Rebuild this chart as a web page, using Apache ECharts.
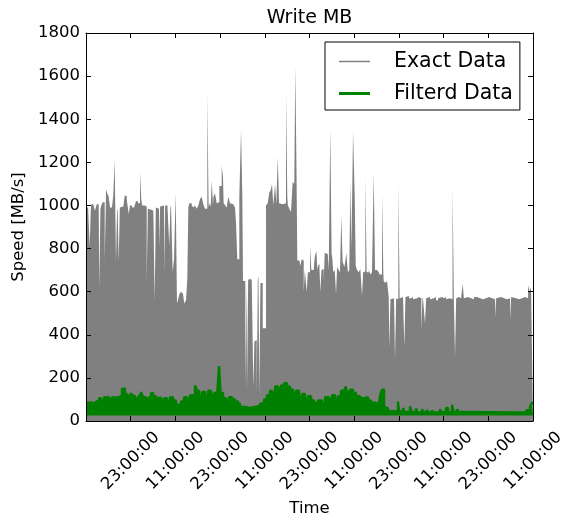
<!DOCTYPE html>
<html>
<head>
<meta charset="utf-8">
<script src="https://cdn.jsdelivr.net/npm/echarts@6/dist/echarts.min.js"></script>
<style>
html,body{margin:0;padding:0;background:#fff;}
#chart{width:564px;height:517px;}
</style>
</head>
<body>
<div id="chart"></div>
<script>
// ---- Tick labels (x axis = hours since the first 11:00:00) ----
const tickHours  = [12, 24, 36, 48, 60, 72, 84, 96, 108, 120];
const tickLabels = ['23:00:00','11:00:00','23:00:00','11:00:00','23:00:00','11:00:00','23:00:00','11:00:00','23:00:00','11:00:00'];
const yTicks = [0, 200, 400, 600, 800, 1000, 1200, 1400, 1600, 1800];

// ---- Exact Data: [hour, MB/s] — each value holds until the next hour ----
const exactPart1 = [
  [0,990],[0.54,1000],[0.99,810],[1.29,985],[1.42,1005],[1.96,1010],[2.42,975],[2.87,1005],[3.41,1000],[3.57,615],[3.87,985],[4.11,1000],[4.48,1015],
  [5.02,745],[5.32,1000],[5.37,1075],[5.72,1055],[6.09,1040],[6.44,990],[6.98,995],[7.33,1050],[7.70,1210],[8.05,740],[8.35,985],[8.50,975],[8.78,740],
  [9.08,990],[9.32,995],[10.01,1000],[10.39,1045],[10.93,1030],[11.46,960],[11.81,1000],[12.35,990],[12.89,985],[13.42,1020],[13.96,1010],[14.50,1155],
  [14.85,1025],[15.11,1000],[15.76,995],[16.30,645],[16.60,985],[16.91,980],[17.53,975],[18.07,990],[18.44,555],[18.74,990],[18.98,985],[19.60,800],
  [19.90,995],[20.05,1000],[20.94,685],[21.24,1000],[21.83,1010],[22.36,810],[22.66,990],[22.82,1000],[23.28,690],[23.63,750],[24.08,1060],[24.43,545],
  [24.60,555],[25.10,590],[25.51,600],[26.04,590],[26.39,545],[26.85,560],[27.20,660]
];
const exactPart2 = [
  [27.47,990],[27.73,1010],[28.38,1000],[28.81,990],[29.27,1000],[29.72,985],[30.15,1000],[30.61,1030],[31.06,1040],[31.49,1005],[31.95,985],[32.57,1520],
  [32.92,990],[33.10,1010],[33.48,995],[33.75,1115],[34.10,1000],[34.20,1040],[34.64,1055],[35.09,1010],[35.52,1015],[35.79,1090],[36.43,1185],[36.78,1130],
  [36.95,1010],[37.40,1000],[37.78,990],[38.21,1040],[38.66,1010],[39.12,1005],[39.55,1000],[40.00,990],[40.27,920],[40.62,750],[41.16,1040],[41.62,1350],
  [41.97,1040],[42.15,650],[42.77,150],[43.07,640],[43.23,140],[43.53,655],[43.68,660],[44.22,650],[44.49,660],[44.92,160],[45.22,370],[45.46,375],
  [45.83,128],[46.13,660],[46.30,670],[46.53,120],[46.83,640],[47.44,430]
];
const exactPart3 = [
  [48.33,1000],[48.78,1010],[49.21,1060],[49.59,1070],[49.94,1100],[50.29,1000],[50.75,1100],[51.10,1005],[51.47,1225],[51.82,1010],[52.35,1005],
  [52.81,1000],[53.24,1010],[53.69,1520],[54.04,1040],[54.20,1000],[54.58,985],[55.04,970],[55.49,1110],[55.92,1100],[56.19,1645],[56.54,1110],
  [56.73,745],[57.27,740],[57.54,720],[57.91,750],[58.18,745],[58.45,600],[58.75,700],[59.25,600],[59.55,690],[60.14,810],[60.49,700],[61.13,700],
  [61.40,760],[61.83,790],[62.13,700],[62.29,720],[62.64,730],[62.91,600],[63.21,700],[63.36,705],[63.82,650],[64.09,780],[64.43,775],[64.89,770],
  [65.16,700],[65.59,1355],[65.94,775],[66.10,760],[66.39,690],[66.77,700],[67.12,590],[67.42,715],[67.84,700],[68.19,690],[68.54,950],[68.89,740],
  [69.35,715],[69.62,740],[69.89,780],[70.24,700],[70.34,690],[70.69,700],[70.96,1110],[71.23,800],[71.50,1100],[71.69,1345],[71.87,1220],[72.14,1040],
  [72.41,720],[72.76,700],[73.22,690],[73.65,705],[74.10,580],[74.40,690],[74.56,695],[74.99,1135],[75.34,690],[75.90,700],[76.33,680],[76.78,690],
  [77.24,1150],[77.59,700],[78.13,705],[78.58,690],[78.85,680],[79.47,1055],[79.82,690],[79.92,650],[80.36,640],[80.81,650]
];
const exactPart4 = [
  [81.27,575],[81.43,337],[81.73,565],[82.15,570],[82.69,575],[82.96,290],[83.26,570],[83.50,565],[83.85,1100],[84.20,570],[84.58,575],[85.11,570],
  [85.46,345],[85.76,575],[86.19,580],[86.72,570],[87.26,575],[87.80,565],[88.33,570],[88.87,575],[89.41,570],[90.02,414],[90.32,575],[90.48,565],
  [91.01,453],[91.31,570],[91.82,575],[92.36,565],[92.89,570],[93.43,575],[93.97,560],[94.51,570],[95.04,575],[95.58,570],[96.12,575],[96.66,565],
  [97.19,570],[97.73,565],[98.40,1085],[98.75,570],[99.07,298],[99.37,570],[99.61,575],[100.15,570],[100.69,565],[101.14,637],[101.44,570],[101.76,575],
  [102.56,570],[103.37,565],[104.17,575],[104.98,570],[105.79,565],[106.59,570],[107.40,575],[108.20,570],[109.01,565],[109.82,480],[110.12,570],
  [110.62,575],[111.42,570],[112.23,565],[113.03,570],[113.84,470],[114.14,575],[114.65,570],[115.45,565],[116.26,570],[117.07,575],[117.87,570],
  [118.68,630],[119.08,600],[119.48,620],[120,620]
];

// ---- Filterd Data: [hour, MB/s] upper edge of the filtered band ----
const filteredPart1 = [
  [0,85],[1.61,80],[2.68,90],[3.49,105],[4.03,95],[4.83,110],[5.37,100],[5.91,115],[6.44,100],[6.98,110],[7.52,95],[8.05,110],[8.59,100],[9.13,115],
  [9.67,150],[10.47,125],[11.01,115],[11.81,125],[12.35,105],[12.89,120],[13.42,105],[14.23,120],[14.77,135],[15.30,110],[16.11,100],[16.91,110],
  [17.45,130],[17.99,115],[18.80,105],[19.60,110],[20.14,95],[20.94,105],[21.75,90],[22.55,110],[23.36,95],[24.16,75],[25.51,90],[26.31,110],
  [27.12,100],[27.92,120],[28.73,105],[29.27,165],[29.80,140],[30.34,120],[31.14,135],[31.95,115],[32.76,140],[33.56,120],[34.37,130],[35.18,110],
  [35.71,255],[36.11,130],[36.78,105],[37.59,95],[38.39,110],[39.20,100],[40.00,90],[40.81,80]
];
const filteredPart2 = [
  [41.35,65],[42.69,60],[44.03,65],[45.37,70],[46.71,80],[47.79,100],[48.59,120],[49.40,140],[49.94,130],[50.75,160],[51.55,150],[52.36,165],
  [53.16,175],[53.97,160],[54.77,145],[55.58,125],[56.38,140],[57.19,110],[58.00,125],[58.80,100],[59.61,115],[60.42,95],[61.22,85],[62.29,95],
  [63.36,80],[64.17,110],[65.24,100],[66.04,120],[66.85,100],[67.66,115],[68.46,140],[69.27,130],[69.67,160],[70.07,135],[70.88,145],[71.69,130],
  [72.49,115],[73.56,105],[74.64,110],[75.71,95],[76.52,85],[77.59,80],[78.66,85],[79.06,125],[79.47,145],[80.01,70],[80.54,60]
];
const filteredPart3 = [
  [81.08,45],[83.76,90],[84.03,45],[85.11,60],[85.51,42],[86.98,68],[87.38,42],[88.59,58],[88.99,40],[90.20,55],[90.47,42],[91.54,52],[91.81,40],
  [92.89,50],[93.16,40],[95.04,55],[95.31,42],[96.65,60],[97.19,40],[98.26,75],[98.66,42],[99.61,55],[100.01,42],[101.22,50],[101.49,40],
  [117.86,40],[118.39,50],[119.20,65],[119.73,85],[120,85]
];
const filteredFloor = 25; // lower edge of the filtered band

// Each value holds until the next reading: build vertical-step polylines.
function toSteps(arr) {
  const out = [];
  for (let i = 0; i < arr.length; i++) {
    out.push([arr[i][0], arr[i][1]]);
    if (i + 1 < arr.length) out.push([arr[i + 1][0], arr[i][1]]);
  }
  return out;
}
const exactData = toSteps(exactPart1.concat(exactPart2, exactPart3, exactPart4));
const filteredData = toSteps(filteredPart1.concat(filteredPart2, filteredPart3));

const FONT = 'DejaVu Sans';
const TICK_FS = 16.5;
const chart = echarts.init(document.getElementById('chart'), null, {renderer: 'canvas'});

function xLabel(v) {
  const i = tickHours.indexOf(Math.round(v));
  return i >= 0 ? tickLabels[i] : '';
}
function tick() { return {show: true, inside: true, length: 5, lineStyle: {color: '#000', width: 1}}; }
function aline() { return {show: true, onZero: false, lineStyle: {color: '#000', width: 1}}; }

chart.setOption({
  animation: false,
  backgroundColor: '#fff',
  textStyle: {fontFamily: FONT},
  title: {
    text: 'Write MB', left: 309.5, textAlign: 'center', top: 9, padding: 0,
    textStyle: {fontFamily: FONT, fontSize: 19, fontWeight: 'normal', color: '#000'}
  },
  legend: {
    left: 325, top: 42, orient: 'vertical', z: 10,
    backgroundColor: '#fff', borderColor: '#000', borderWidth: 1, borderRadius: 0,
    padding: [9, 7, 6, 14], itemWidth: 31, itemHeight: 14, itemGap: 11,
    symbolKeepAspect: true,
    textStyle: {fontFamily: FONT, fontSize: 20.5, color: '#000', padding: [0, 0, 0, 19], lineHeight: 20},
    data: [
      {name: 'Exact Data', icon: 'path://M0,0L62,0L62,3L0,3Z', itemStyle: {color: '#808080', borderWidth: 0}},
      {name: 'Filterd Data', icon: 'path://M0,0L31,0L31,3L0,3Z', itemStyle: {color: '#008000', borderWidth: 0}}
    ]
  },
  grid: {left: 86, top: 33, right: 31, bottom: 96, containLabel: false, outerBoundsMode: 'none'},
  xAxis: [{
    type: 'value', min: 0, max: 120, interval: 12, position: 'bottom', z: 5,
    name: 'Time', nameLocation: 'middle', nameGap: 72,
    nameTextStyle: {fontFamily: FONT, fontSize: TICK_FS, color: '#000'},
    axisLine: aline(), axisTick: tick(), splitLine: {show: false},
    axisLabel: {
      formatter: xLabel, rotate: 45, align: 'center', verticalAlign: 'middle', margin: 40,
      fontFamily: FONT, fontSize: TICK_FS, color: '#000'
    }
  }, {
    type: 'value', min: 0, max: 120, interval: 12, position: 'top', z: 5,
    axisLine: aline(), axisTick: tick(), axisLabel: {show: false}, splitLine: {show: false}
  }],
  yAxis: [{
    type: 'value', min: 0, max: 1800, interval: 200, position: 'left', z: 5,
    name: 'Speed [MB/s]', nameLocation: 'middle', nameGap: 54,
    nameTextStyle: {fontFamily: FONT, fontSize: TICK_FS, color: '#000'},
    axisLine: aline(), axisTick: tick(), splitLine: {show: false},
    axisLabel: {
      margin: 6, fontFamily: FONT, fontSize: TICK_FS, color: '#000',
      formatter: v => (yTicks.indexOf(v) >= 0 ? String(v) : '')
    }
  }, {
    type: 'value', min: 0, max: 1800, interval: 200, position: 'right', z: 5,
    axisLine: aline(), axisTick: tick(), axisLabel: {show: false}, splitLine: {show: false}
  }],
  series: [{
    name: 'Exact Data', type: 'line', data: exactData,
    symbol: 'none', showSymbol: false,
    lineStyle: {width: 0, color: '#808080'},
    itemStyle: {color: '#808080'},
    areaStyle: {color: '#808080', opacity: 1, origin: 'start'},
    z: 1
  }, {
    name: 'Filterd Data', type: 'line', data: filteredData,
    symbol: 'none', showSymbol: false,
    lineStyle: {width: 2.5, color: '#008000'},
    itemStyle: {color: '#008000'},
    areaStyle: {color: '#008000', opacity: 1, origin: filteredFloor},
    z: 2
  }]
});
</script>
</body>
</html>
